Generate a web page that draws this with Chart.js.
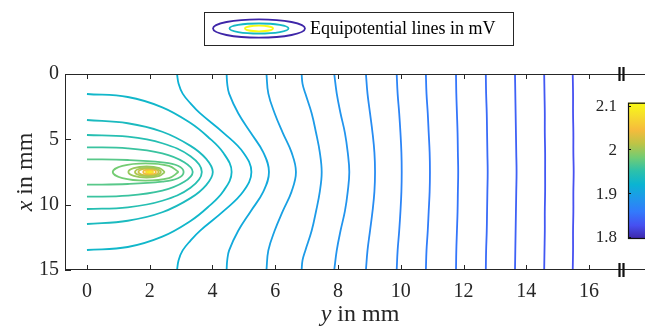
<!DOCTYPE html>
<html>
<head>
<meta charset="utf-8">
<title>Equipotential lines</title>
<style>
    html, body { margin: 0; padding: 0; background: #fff; }
    canvas { display: block; }
</style>
</head>
<body>
<canvas id="potential" width="645" height="329"></canvas>
<script src="https://cdn.jsdelivr.net/npm/chart.js"></script>
<script>
    const SERIF = '"Liberation Serif", "Times New Roman", serif';
    const INK = '#262626';

    // axis ticks (mm) and colour bar (mV)
    const yTicks = [0, 2, 4, 6, 8, 10, 12, 14, 16];
    const xTicks = [0, 5, 10, 15];
    const colorRange = [1.795, 2.107];
    const colorTicks = [1.8, 1.9, 2.0, 2.1];
    const colorTickLabels = ['1.8', '1.9', '2', '2.1'];
    const legendLabel = 'Equipotential lines in mV';

    // contours crossing the strip from x = 0 to x = 15, points are [y, x] in mm
    const crossLevels = [1.917, 1.907, 1.898, 1.892, 1.884, 1.876, 1.868, 1.861, 1.854, 1.846, 1.839, 1.832, 1.826];
    const crossLines = [
        [[2.87,0],[2.92,0.75],[3.05,1.5],[3.3,2.25],[3.6,3],[4.35,4.5],[4.98,6],[5.24,7.5],[4.98,9],[4.35,10.5],[3.6,12],[3.3,12.75],[3.05,13.5],[2.92,14.25],[2.87,15]],
        [[4.45,0],[4.47,0.75],[4.53,1.5],[4.82,3],[5.22,4.5],[5.62,6],[5.80,7.5],[5.62,9],[5.22,10.5],[4.82,12],[4.53,13.5],[4.47,14.25],[4.45,15]],
        [[5.72,0],[5.78,1.5],[5.98,3],[6.24,4.5],[6.52,6],[6.66,7.5],[6.52,9],[6.24,10.5],[5.98,12],[5.78,13.5],[5.72,15]],
        [[6.84,0],[6.87,0.75],[6.96,1.5],[7.16,3],[7.30,4.5],[7.42,6],[7.48,7.5],[7.42,9],[7.30,10.5],[7.16,12],[6.96,13.5],[6.87,14.25],[6.84,15]],
        [[7.88,0],[7.96,1.5],[8.08,3],[8.22,4.5],[8.31,6],[8.36,7.5],[8.31,9],[8.22,10.5],[8.08,12],[7.96,13.5],[7.88,15]],
        [[8.89,0],[8.94,1.5],[9.02,3],[9.10,4.5],[9.16,6],[9.18,7.5],[9.16,9],[9.10,10.5],[9.02,12],[8.94,13.5],[8.89,15]],
        [[9.87,0],[9.90,1.5],[9.95,3],[9.99,4.5],[10.02,6],[10.03,7.5],[10.02,9],[9.99,10.5],[9.95,12],[9.90,13.5],[9.87,15]],
        [[10.80,0],[10.82,1.5],[10.86,3],[10.89,4.5],[10.92,6],[10.93,7.5],[10.92,9],[10.89,10.5],[10.86,12],[10.82,13.5],[10.80,15]],
        [[11.76,0],[11.77,1.5],[11.79,3],[11.81,4.5],[11.82,6],[11.83,7.5],[11.82,9],[11.81,10.5],[11.79,12],[11.77,13.5],[11.76,15]],
        [[12.71,0],[12.72,1.5],[12.74,3],[12.75,4.5],[12.76,6],[12.77,7.5],[12.76,9],[12.75,10.5],[12.74,12],[12.72,13.5],[12.71,15]],
        [[13.64,0],[13.65,1.5],[13.66,3],[13.67,4.5],[13.68,6],[13.69,7.5],[13.68,9],[13.67,10.5],[13.66,12],[13.65,13.5],[13.64,15]],
        [[14.57,0],[14.58,1.5],[14.59,3],[14.59,4.5],[14.60,6],[14.60,7.5],[14.60,9],[14.59,10.5],[14.59,12],[14.58,13.5],[14.57,15]],
        [[15.48,0],[15.49,1.5],[15.49,3],[15.50,4.5],[15.50,6],[15.51,7.5],[15.50,9],[15.50,10.5],[15.49,12],[15.49,13.5],[15.48,15]]
    ];

    // contours that leave and return to the y = 0 edge
    const arcLevels = [1.926, 1.935, 1.945, 1.957, 1.970];
    const arcLines = [
        [[0,1.53],[1.3,1.76],[2.4,2.55],[3.3,3.75],[3.85,4.8],[4.35,6.05],[4.61,7.5],[4.35,8.95],[3.85,10.2],[3.3,11.25],[2.4,12.45],[1.3,13.24],[0,13.47]],
        [[0,3.52],[1.3,3.77],[2.4,4.42],[3.3,5.5],[3.8,6.5],[4.01,7.5],[3.8,8.5],[3.3,9.5],[2.4,10.58],[1.3,11.23],[0,11.48]],
        [[0,4.67],[1.3,4.8],[2.4,5.3],[3.3,6.3],[3.66,7.5],[3.3,8.7],[2.4,9.7],[1.3,10.2],[0,10.33]],
        [[0,5.61],[1.3,5.69],[2.4,6.07],[3.1,6.75],[3.37,7.5],[3.1,8.25],[2.4,8.93],[1.3,9.31],[0,9.39]],
        [[0,6.53],[1.3,6.58],[2.4,6.76],[2.9,7.02],[3.08,7.5],[2.9,7.98],[2.4,8.24],[1.3,8.42],[0,8.47]]
    ];

    // closed rings around the electrode at y = 2, x = 7.5
    const ringLevels = [1.982, 1.998, 2.007, 2.020, 2.045, 2.076, 2.098];
    const ringLines = [
        [[2.92,7.5],[2.61,7.97],[1.87,8.16],[1.13,7.97],[0.82,7.5],[1.13,7.03],[1.87,6.84],[2.61,7.03],[2.92,7.5]],
        [[2.48,7.5],[2.31,7.8],[1.9,7.92],[1.49,7.8],[1.32,7.5],[1.49,7.2],[1.9,7.08],[2.31,7.2],[2.48,7.5]],
        [[2.37,7.5],[2.25,7.73],[1.95,7.82],[1.65,7.73],[1.53,7.5],[1.65,7.27],[1.95,7.18],[2.25,7.27],[2.37,7.5]],
        [[2.30,7.5],[2.2,7.69],[1.97,7.77],[1.74,7.69],[1.64,7.5],[1.74,7.31],[1.97,7.23],[2.2,7.31],[2.30,7.5]],
        [[2.21,7.5],[2.15,7.64],[2.0,7.7],[1.85,7.64],[1.79,7.5],[1.85,7.36],[2.0,7.3],[2.15,7.36],[2.21,7.5]],
        [[2.12,7.5],[2.08,7.58],[2.0,7.62],[1.92,7.58],[1.88,7.5],[1.92,7.42],[2.0,7.38],[2.08,7.42],[2.12,7.5]],
        [[2.06,7.5],[2.04,7.54],[2.0,7.56],[1.96,7.54],[1.94,7.5],[1.96,7.46],[2.0,7.44],[2.04,7.46],[2.06,7.5]]
    ];

    // parula-like colour map, 11 stops from 0 to 1
    const parulaStops = [
        [62,38,168],[70,80,241],[50,122,252],[31,152,235],[10,180,210],
        [45,193,170],[115,204,115],[190,196,70],[246,187,60],[246,220,45],[249,251,20]
    ];

    function parula(t) {
        t = Math.max(0, Math.min(1, t));
        const p = t * 10;
        const i = Math.min(9, Math.floor(p));
        const f = p - i;
        const a = parulaStops[i], b = parulaStops[i + 1];
        const c = a.map((v, k) => Math.round(v + (b[k] - v) * f));
        return `rgb(${c[0]},${c[1]},${c[2]})`;
    }

    function levelColor(v) {
        return parula((v - colorRange[0]) / (colorRange[1] - colorRange[0]));
    }

    const datasets = [];
    function addPaths(paths, levels) {
        paths.forEach((p, i) => {
            datasets.push({
                data: p.map(([yy, xx]) => ({ x: yy, y: xx })),
                borderColor: levelColor(levels[i]),
                showLine: true,
                fill: false,
                tension: 0.4,
                borderWidth: 1.8,
                pointRadius: 0
            });
        });
    }
    addPaths(crossLines, crossLevels);
    addPaths(arcLines, arcLevels);
    addPaths(ringLines, ringLevels);

    // box, inward ticks and the axis break marks
    const frame = {
        id: 'frame',
        afterDatasetsDraw(chart) {
            const { ctx, chartArea: a, scales } = chart;
            ctx.save();
            ctx.strokeStyle = INK;
            ctx.lineWidth = 1;
            ctx.beginPath();
            ctx.moveTo(a.left + 0.5, a.top);
            ctx.lineTo(a.left + 0.5, a.bottom);
            ctx.moveTo(a.left, a.top + 0.5);
            ctx.lineTo(chart.width, a.top + 0.5);
            ctx.moveTo(a.left, a.bottom - 0.5);
            ctx.lineTo(chart.width, a.bottom - 0.5);
            yTicks.forEach(v => {
                const px = Math.round(scales.x.getPixelForValue(v)) + 0.5;
                ctx.moveTo(px, a.top);
                ctx.lineTo(px, a.top + 5);
                ctx.moveTo(px, a.bottom);
                ctx.lineTo(px, a.bottom - 5);
            });
            xTicks.forEach(v => {
                const py = Math.round(scales.y.getPixelForValue(v)) + 0.5;
                ctx.moveTo(a.left, py);
                ctx.lineTo(a.left + 6, py);
            });
            ctx.stroke();

            ctx.lineWidth = 2.2;
            ctx.strokeStyle = '#111';
            ctx.beginPath();
            [a.right - 2.5, a.right + 1.5].forEach(bx => {
                ctx.moveTo(bx, a.top - 7);
                ctx.lineTo(bx, a.top + 7);
                ctx.moveTo(bx, a.bottom - 7);
                ctx.lineTo(bx, a.bottom + 7);
            });
            ctx.stroke();
            ctx.restore();
        }
    };

    const colorBar = {
        id: 'colorBar',
        afterDraw(chart) {
            const { ctx } = chart;
            const left = 628, width = 30, top = 102.7, bottom = 239;
            const toPx = v => bottom - (v - colorRange[0]) / (colorRange[1] - colorRange[0]) * (bottom - top);
            ctx.save();
            const g = ctx.createLinearGradient(0, bottom, 0, top);
            parulaStops.forEach((c, i) => g.addColorStop(i / 10, `rgb(${c[0]},${c[1]},${c[2]})`));
            ctx.fillStyle = g;
            ctx.fillRect(left, top, width, bottom - top);
            ctx.strokeStyle = '#111';
            ctx.lineWidth = 1.2;
            ctx.strokeRect(left + 0.5, top + 0.5, width, bottom - top - 1);
            ctx.lineWidth = 1;
            ctx.beginPath();
            colorTicks.forEach(v => {
                const py = Math.round(toPx(v)) + 0.5;
                ctx.moveTo(left, py);
                ctx.lineTo(left + 3, py);
            });
            ctx.stroke();
            ctx.fillStyle = INK;
            ctx.font = `17px ${SERIF}`;
            ctx.textAlign = 'right';
            ctx.textBaseline = 'middle';
            colorTicks.forEach((v, i) => ctx.fillText(colorTickLabels[i], 617, toPx(v) + 1));
            ctx.restore();
        }
    };

    // italic variable followed by upright text
    function mixedLabel(ctx, italic, rest, size) {
        ctx.font = `italic ${size}px ${SERIF}`;
        const w1 = ctx.measureText(italic).width;
        ctx.font = `${size}px ${SERIF}`;
        const w2 = ctx.measureText(rest).width;
        const start = -(w1 + w2) / 2;
        ctx.textAlign = 'left';
        ctx.font = `italic ${size}px ${SERIF}`;
        ctx.fillText(italic, start, 0);
        ctx.font = `${size}px ${SERIF}`;
        ctx.fillText(rest, start + w1, 0);
    }

    const axisTitles = {
        id: 'axisTitles',
        afterDraw(chart) {
            const { ctx } = chart;
            ctx.save();
            ctx.fillStyle = INK;
            ctx.textBaseline = 'alphabetic';
            ctx.save();
            ctx.translate(360, 321);
            mixedLabel(ctx, 'y', ' in mm', 24);
            ctx.restore();
            ctx.save();
            ctx.translate(32, 172);
            ctx.rotate(-Math.PI / 2);
            mixedLabel(ctx, 'x', ' in mm', 24);
            ctx.restore();
            ctx.restore();
        }
    };

    const legendBox = {
        id: 'legendBox',
        afterDraw(chart) {
            const { ctx } = chart;
            ctx.save();
            ctx.fillStyle = '#fff';
            ctx.fillRect(204, 12, 309, 33);
            ctx.strokeStyle = INK;
            ctx.lineWidth = 1;
            ctx.strokeRect(204.5, 12.5, 309, 33);
            const cx = 259, cy = 28.5;
            [[46, 9.2, levelColor(1.795)], [29.5, 5, levelColor(1.93)], [14, 2.8, levelColor(2.107)]].forEach(([rx, ry, c]) => {
                ctx.beginPath();
                ctx.ellipse(cx, cy, rx, ry, 0, 0, Math.PI * 2);
                ctx.strokeStyle = c;
                ctx.lineWidth = 1.8;
                ctx.stroke();
            });
            ctx.fillStyle = '#000';
            ctx.font = `18px ${SERIF}`;
            ctx.textAlign = 'left';
            ctx.textBaseline = 'middle';
            ctx.fillText(legendLabel, 310, 29.5);
            ctx.restore();
        }
    };

    new Chart(document.getElementById('potential'), {
        type: 'scatter',
        data: { datasets: datasets },
        options: {
            responsive: false,
            animation: false,
            devicePixelRatio: 1,
            layout: { padding: { top: 74, right: 23, left: 0, bottom: 0 } },
            plugins: { legend: { display: false }, tooltip: { enabled: false } },
            scales: {
                x: {
                    type: 'linear',
                    min: -0.7,
                    max: 17.05,
                    afterBuildTicks: s => { s.ticks = yTicks.map(v => ({ value: v })); },
                    afterFit: s => { s.height = 59; },
                    grid: { display: false, drawTicks: false },
                    border: { display: false },
                    ticks: { autoSkip: false, maxRotation: 0, padding: 10, color: INK, font: { family: SERIF, size: 20 } }
                },
                y: {
                    type: 'linear',
                    reverse: true,
                    min: 0,
                    max: 15,
                    afterBuildTicks: s => { s.ticks = xTicks.map(v => ({ value: v })); },
                    afterFit: s => { s.width = 65; },
                    grid: { display: false, drawTicks: false },
                    border: { display: false },
                    ticks: { autoSkip: false, padding: 6, color: INK, font: { family: SERIF, size: 20 } }
                }
            }
        },
        plugins: [frame, colorBar, axisTitles, legendBox]
    });
</script>
</body>
</html>
